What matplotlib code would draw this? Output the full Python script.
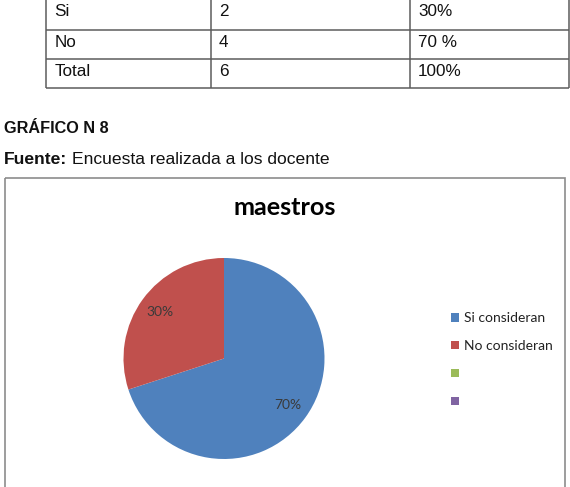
import matplotlib
matplotlib.use("Agg")
import matplotlib.pyplot as plt
from matplotlib.patches import Patch, Rectangle

# ---- data ----
table_rows = ["Si", "No", "Total"]
table_counts = ["2", "4", "6"]
table_pcts = ["30%", "70 %", "100%"]

caption = "GRÁFICO N 8"
source_label = "Fuente:"
source_text = "Encuesta realizada a los docente"

title = "maestros"
labels = ["Si consideran", "No consideran", "", ""]
values = [70, 30, 0, 0]
colors = ["#4F81BD", "#C0504D", "#9BBB59", "#8064A2"]

W, H = 570, 487
fig = plt.figure(figsize=(W / 100, H / 100), dpi=100)
fig.patch.set_facecolor("white")

ax0 = fig.add_axes([0, 0, 1, 1])
ax0.set_xlim(0, W)
ax0.set_ylim(H, 0)
ax0.axis("off")

doc_font = "Liberation Sans"

# ---- table ----
col_x = [46.4, 210.8, 410.0, 568.9]
row_y = [-1.0, 30.2, 59.2, 88.4]
lc = "#5c5c5c"
for x in col_x:
    ax0.plot([x, x], [row_y[0], row_y[-1]], color=lc, lw=1.1, solid_capstyle="butt")
for y in row_y:
    ax0.plot([col_x[0], col_x[-1]], [y, y], color=lc, lw=1.1, solid_capstyle="butt")
for i, (a, b, c) in enumerate(zip(table_rows, table_counts, table_pcts)):
    yb = row_y[i] + 16.6
    for j, s in enumerate((a, b, c)):
        ax0.text(col_x[j] + 8.2, yb, s, va="baseline", ha="left",
                 fontsize=12.3, family=doc_font, color="#111111")

# ---- caption lines ----
ax0.text(3.5, 132.7, caption, va="baseline", ha="left", fontsize=11.7,
         family=doc_font, weight="bold", color="#111111")
t = ax0.text(3.5, 164.3, source_label, va="baseline", ha="left", fontsize=12.6,
             family=doc_font, weight="bold", color="#111111")
r = fig.canvas.get_renderer()
bb = t.get_window_extent(r)
ax0.text(bb.x1 + 5.0, 164.3, source_text, va="baseline", ha="left", fontsize=12.6,
         family=doc_font, color="#111111")

# ---- chart box ----
ax0.add_patch(Rectangle((5.2, 178.3), 560.0, 320, fill=False,
                        edgecolor="#8c8c8c", lw=1.2))

ax0.text(284.5, 215, title, va="baseline", ha="center", fontsize=18.2,
         family="Lato", weight="bold", color="#000000")

# ---- pie ----
cx, cy, rad = 224.0, 358.5, 100.5
axp = fig.add_axes([(cx - rad) / W, (H - cy - rad) / H, 2 * rad / W, 2 * rad / H])
wedges, texts, autotexts = axp.pie(
    values, colors=colors, startangle=90, counterclock=False,
    autopct=lambda p: f"{p:.0f}%" if p > 0 else "", pctdistance=0.79,
    wedgeprops=dict(linewidth=0), radius=1.0)
for at in autotexts:
    at.set_fontsize(10)
    at.set_family("Lato")
    at.set_color("#3a3a3a")
axp.set_xlim(-1, 1)
axp.set_ylim(-1, 1)
axp.set_aspect("auto")
axp.axis("off")

handles = [Patch(facecolor=c, edgecolor="none") for c in colors]
leg = fig.legend(handles, labels, loc="upper left",
                 bbox_to_anchor=(450.5, 312.0), bbox_transform=ax0.transData,
                 frameon=False, prop=dict(family="Lato", size=10),
                 handlelength=0.6, handleheight=0.6, handletextpad=0.35,
                 labelspacing=1.15, borderpad=0, borderaxespad=0)
for txt in leg.get_texts():
    txt.set_color("#222222")

fig.savefig("out.png", dpi=100, facecolor="white")
